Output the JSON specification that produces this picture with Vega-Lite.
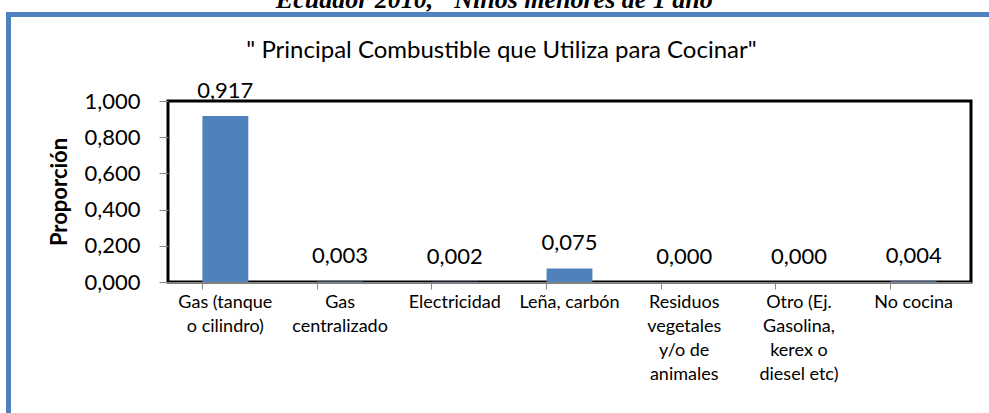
{
  "$schema": "https://vega.github.io/schema/vega-lite/v6.json",
  "width": 803,
  "height": 181,
  "autosize": {"type": "none"},
  "padding": {"left": 168, "top": 101, "right": 18, "bottom": 131},
  "background": "white",
  "config": {
    "locale": {"number": {"decimal": ",", "thousands": ".", "grouping": [3], "currency": ["$", ""]}},
    "font": "Lato",
    "view": {"stroke": "black", "strokeWidth": 3}
  },
  "title": {
    "text": "Ecuador 2010, \"Niños menores de 1 año\"",
    "subtitle": "\" Principal Combustible que Utiliza para Cocinar\"",
    "anchor": "middle",
    "frame": "group",
    "dx": -68,
    "font": "Liberation Serif",
    "fontSize": 26,
    "fontStyle": "italic",
    "fontWeight": "bold",
    "color": "black",
    "subtitleFont": "Lato",
    "subtitleFontSize": 24,
    "subtitleColor": "black",
    "subtitlePadding": 26,
    "offset": -51
  },
  "data": {
    "values": [
      {"combustible": "Gas (tanque o cilindro)", "proporcion": 0.917},
      {"combustible": "Gas centralizado", "proporcion": 0.003},
      {"combustible": "Electricidad", "proporcion": 0.002},
      {"combustible": "Leña, carbón", "proporcion": 0.075},
      {"combustible": "Residuos vegetales y/o de animales", "proporcion": 0.0},
      {"combustible": "Otro (Ej. Gasolina, kerex o diesel etc)", "proporcion": 0.0},
      {"combustible": "No cocina", "proporcion": 0.004}
    ]
  },
  "encoding": {
    "x": {
      "field": "combustible",
      "type": "nominal",
      "sort": null,
      "scale": {"paddingInner": 0.6, "paddingOuter": 0.3},
      "axis": {
        "title": null,
        "labelAngle": 0,
        "labelFontSize": 18,
        "labelColor": "black",
        "labelLineHeight": 24,
        "labelBaseline": "top",
        "labelPadding": 4,
        "labelLimit": 200,
        "bandPosition": 0,
        "tickColor": "#868686",
        "tickSize": 7,
        "domainColor": "#868686",
        "labelExpr": "datum.label == 'Gas (tanque o cilindro)' ? ['Gas (tanque', 'o cilindro)'] : datum.label == 'Gas centralizado' ? ['Gas', 'centralizado'] : datum.label == 'Residuos vegetales y/o de animales' ? ['Residuos', 'vegetales', 'y/o de', 'animales'] : datum.label == 'Otro (Ej. Gasolina, kerex o diesel etc)' ? ['Otro (Ej.', 'Gasolina,', 'kerex o', 'diesel etc)'] : datum.label"
      }
    },
    "y": {
      "field": "proporcion",
      "type": "quantitative",
      "scale": {"domain": [0, 1]},
      "axis": {
        "title": "Proporción",
        "titleFontSize": 22,
        "titleFontWeight": "bold",
        "titleColor": "black",
        "titlePadding": 12,
        "values": [0, 0.2, 0.4, 0.6, 0.8, 1],
        "format": ".3f",
        "labelFontSize": 22,
        "labelColor": "black",
        "labelPadding": 19,
        "tickSize": 9,
        "tickColor": "#868686",
        "domain": false,
        "grid": false
      }
    }
  },
  "layer": [
    {
      "mark": {"type": "bar"},
      "encoding": {
        "color": {
          "datum": "marco",
          "scale": {"range": ["#4F81BD"]},
          "legend": {
            "orient": "none",
            "legendX": -159.5,
            "legendY": -86.5,
            "padding": 510,
            "title": null,
            "labelExpr": "''",
            "symbolSize": 0,
            "symbolOpacity": 0,
            "encode": {
              "legend": {"update": {"stroke": {"value": "#4F81BD"}, "strokeWidth": {"value": 5}}}
            }
          }
        }
      }
    },
    {
      "mark": {"type": "text", "baseline": "middle", "dy": -25, "fontSize": 22, "color": "black"},
      "encoding": {
        "text": {"field": "proporcion", "type": "quantitative", "format": ".3f"}
      }
    }
  ]
}
